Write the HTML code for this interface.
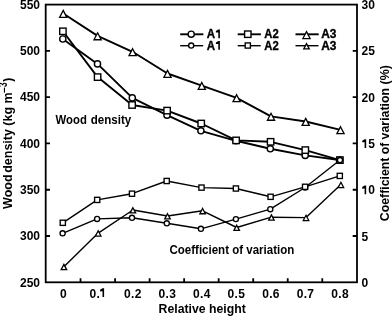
<!DOCTYPE html>
<html><head><meta charset="utf-8"><style>
html,body{margin:0;padding:0;background:#fff;width:392px;height:316px;overflow:hidden}
svg{display:block}
svg{will-change:transform}
.lg{stroke:#000;stroke-width:0.35px}
text{font-family:"Liberation Sans",sans-serif;font-weight:bold;font-size:12px;fill:#000}
</style></head><body>
<svg width="392" height="316" viewBox="0 0 392 316"><rect x="45.7" y="4.6" width="311.3" height="277.7" fill="none" stroke="#000" stroke-width="1.8"/><path d="M45.7 50.88h4.3M45.7 97.17h4.3M45.7 143.45h4.3M45.7 189.73h4.3M45.7 236.02h4.3M357 50.88h-4.3M357 97.17h-4.3M357 143.45h-4.3M357 189.73h-4.3M357 236.02h-4.3M80.53 282.3v-4M115.07 282.3v-4M149.6 282.3v-4M184.13 282.3v-4M218.67 282.3v-4M253.2 282.3v-4M287.73 282.3v-4M322.27 282.3v-4" stroke="#000" stroke-width="1.8" fill="none"/><polyline fill="none" stroke="#000" stroke-width="1.9" stroke-linejoin="round" points="62.8,39 97.5,63.9 132.3,97.9 167,115.2 200.9,130.8 236,140.8 270.3,148.8 305.2,155.4 339.5,160"/><g fill="#fff" stroke="#000"><circle cx="62.8" cy="39" r="3.1" stroke-width="1.4"/><circle cx="97.5" cy="63.9" r="3.1" stroke-width="1.4"/><circle cx="132.3" cy="97.9" r="3.1" stroke-width="1.4"/><circle cx="167" cy="115.2" r="3.1" stroke-width="1.4"/><circle cx="200.9" cy="130.8" r="3.1" stroke-width="1.4"/><circle cx="236" cy="140.8" r="3.1" stroke-width="1.4"/><circle cx="270.3" cy="148.8" r="3.1" stroke-width="1.4"/><circle cx="305.2" cy="155.4" r="3.1" stroke-width="1.4"/><circle cx="339.5" cy="160" r="3.1" stroke-width="1.4"/></g><polyline fill="none" stroke="#000" stroke-width="1.9" stroke-linejoin="round" points="62.9,31.3 97.6,77.1 132.1,105 167.1,110.6 201.2,123.5 236.1,140.4 270.6,141.8 305.3,150.1 339.9,160.1"/><g fill="#fff" stroke="#000"><rect x="59.7" y="28.1" width="6.4" height="6.4" stroke-width="1.4"/><rect x="94.4" y="73.9" width="6.4" height="6.4" stroke-width="1.4"/><rect x="128.9" y="101.8" width="6.4" height="6.4" stroke-width="1.4"/><rect x="163.9" y="107.4" width="6.4" height="6.4" stroke-width="1.4"/><rect x="198" y="120.3" width="6.4" height="6.4" stroke-width="1.4"/><rect x="232.9" y="137.2" width="6.4" height="6.4" stroke-width="1.4"/><rect x="267.4" y="138.6" width="6.4" height="6.4" stroke-width="1.4"/><rect x="302.1" y="146.9" width="6.4" height="6.4" stroke-width="1.4"/><rect x="336.7" y="156.9" width="6.4" height="6.4" stroke-width="1.4"/></g><polyline fill="none" stroke="#000" stroke-width="1.9" stroke-linejoin="round" points="63.2,13.5 97.6,35.9 132.6,51.8 167.5,73.5 201.8,85.6 236.6,97.8 271,116.4 305.7,121.5 340.5,129.8"/><g fill="#fff" stroke="#000"><path d="M63.2 10.4L66.8 17.35L59.6 17.35Z" stroke-width="1.3"/><path d="M97.6 32.8L101.2 39.75L94 39.75Z" stroke-width="1.3"/><path d="M132.6 48.7L136.2 55.65L129 55.65Z" stroke-width="1.3"/><path d="M167.5 70.4L171.1 77.35L163.9 77.35Z" stroke-width="1.3"/><path d="M201.8 82.5L205.4 89.45L198.2 89.45Z" stroke-width="1.3"/><path d="M236.6 94.7L240.2 101.65L233 101.65Z" stroke-width="1.3"/><path d="M271 113.3L274.6 120.25L267.4 120.25Z" stroke-width="1.3"/><path d="M305.7 118.4L309.3 125.35L302.1 125.35Z" stroke-width="1.3"/><path d="M340.5 126.7L344.1 133.65L336.9 133.65Z" stroke-width="1.3"/></g><polyline fill="none" stroke="#000" stroke-width="1.4" stroke-linejoin="round" points="62.6,233.3 97.1,218.9 132,217.8 166.8,223.3 200.9,228.8 235.9,219.1 270.3,209.2 305.1,187.5 340,160"/><g fill="#fff" stroke="#000"><circle cx="62.6" cy="233.3" r="2.55" stroke-width="1.35"/><circle cx="97.1" cy="218.9" r="2.55" stroke-width="1.35"/><circle cx="132" cy="217.8" r="2.55" stroke-width="1.35"/><circle cx="166.8" cy="223.3" r="2.55" stroke-width="1.35"/><circle cx="200.9" cy="228.8" r="2.55" stroke-width="1.35"/><circle cx="235.9" cy="219.1" r="2.55" stroke-width="1.35"/><circle cx="270.3" cy="209.2" r="2.55" stroke-width="1.35"/><circle cx="305.1" cy="187.5" r="2.55" stroke-width="1.35"/><circle cx="340" cy="160" r="2.55" stroke-width="1.35"/></g><polyline fill="none" stroke="#000" stroke-width="1.4" stroke-linejoin="round" points="62.8,222.8 97.2,199.9 132,193.7 166.7,181 201.5,187.6 235.9,188.5 270.6,196.8 305.1,186.8 339.8,175.9"/><g fill="#fff" stroke="#000"><rect x="60.2" y="220.2" width="5.2" height="5.2" stroke-width="1.35"/><rect x="94.6" y="197.3" width="5.2" height="5.2" stroke-width="1.35"/><rect x="129.4" y="191.1" width="5.2" height="5.2" stroke-width="1.35"/><rect x="164.1" y="178.4" width="5.2" height="5.2" stroke-width="1.35"/><rect x="198.9" y="185" width="5.2" height="5.2" stroke-width="1.35"/><rect x="233.3" y="185.9" width="5.2" height="5.2" stroke-width="1.35"/><rect x="268" y="194.2" width="5.2" height="5.2" stroke-width="1.35"/><rect x="302.5" y="184.2" width="5.2" height="5.2" stroke-width="1.35"/><rect x="337.2" y="173.3" width="5.2" height="5.2" stroke-width="1.35"/></g><polyline fill="none" stroke="#000" stroke-width="1.4" stroke-linejoin="round" points="63.9,266.7 98.2,233.1 132.9,210 167.5,216 202.6,210.8 236.7,227.5 271.4,217.2 306,217.6 340.9,184.6"/><g fill="#fff" stroke="#000"><path d="M63.9 264.4L66.65 269.65L61.15 269.65Z" stroke-width="1.3"/><path d="M98.2 230.8L100.95 236.05L95.45 236.05Z" stroke-width="1.3"/><path d="M132.9 207.7L135.65 212.95L130.15 212.95Z" stroke-width="1.3"/><path d="M167.5 213.7L170.25 218.95L164.75 218.95Z" stroke-width="1.3"/><path d="M202.6 208.5L205.35 213.75L199.85 213.75Z" stroke-width="1.3"/><path d="M236.7 225.2L239.45 230.45L233.95 230.45Z" stroke-width="1.3"/><path d="M271.4 214.9L274.15 220.15L268.65 220.15Z" stroke-width="1.3"/><path d="M306 215.3L308.75 220.55L303.25 220.55Z" stroke-width="1.3"/><path d="M340.9 182.3L343.65 187.55L338.15 187.55Z" stroke-width="1.3"/></g><path d="M180.2 34.3h23.2" stroke="#000" stroke-width="1.9"/><g fill="#fff" stroke="#000"><circle cx="191.2" cy="34.2" r="3.1" stroke-width="1.4"/></g><path d="M180.2 45.7h23" stroke="#000" stroke-width="1.4"/><g fill="#fff" stroke="#000"><circle cx="191.2" cy="45.5" r="2.55" stroke-width="1.35"/></g><text x="206.85" y="38.2" textLength="8.31" lengthAdjust="spacingAndGlyphs" class="lg">A</text><text x="206.85" y="49.7" textLength="8.31" lengthAdjust="spacingAndGlyphs" class="lg">A</text><path d="M237.7 34.3h23.2" stroke="#000" stroke-width="1.9"/><g fill="#fff" stroke="#000"><rect x="244.6" y="31" width="6.4" height="6.4" stroke-width="1.4"/></g><path d="M237.7 45.7h23" stroke="#000" stroke-width="1.4"/><g fill="#fff" stroke="#000"><rect x="245.2" y="42.9" width="5.2" height="5.2" stroke-width="1.35"/></g><text x="264.3" y="38.2" textLength="14.37" lengthAdjust="spacingAndGlyphs" class="lg">A2</text><text x="264.3" y="49.7" textLength="14.37" lengthAdjust="spacingAndGlyphs" class="lg">A2</text><path d="M295.5 34.3h23.2" stroke="#000" stroke-width="1.9"/><g fill="#fff" stroke="#000"><path d="M306.5 31.6L310.1 38.55L302.9 38.55Z" stroke-width="1.3"/></g><path d="M295.5 45.7h23" stroke="#000" stroke-width="1.4"/><g fill="#fff" stroke="#000"><path d="M306.5 43.6L309.25 48.85L303.75 48.85Z" stroke-width="1.3"/></g><text x="321.15" y="38.2" textLength="15.24" lengthAdjust="spacingAndGlyphs" class="lg">A3</text><text x="321.15" y="49.7" textLength="15.24" lengthAdjust="spacingAndGlyphs" class="lg">A3</text><text x="40" y="8.9" text-anchor="end">550</text><text x="40" y="55.18" text-anchor="end">500</text><text x="40" y="101.47" text-anchor="end">450</text><text x="40" y="147.75" text-anchor="end">400</text><text x="40" y="194.03" text-anchor="end">350</text><text x="40" y="240.32" text-anchor="end">300</text><text x="40" y="286.6" text-anchor="end">250</text><text x="361.5" y="9.2">30</text><text x="361.5" y="55.48">25</text><text x="361.5" y="101.77">20</text><text x="368.17" y="148.05">5</text><text x="368.17" y="194.33">0</text><text x="361.5" y="240.62">5</text><text x="361.5" y="286.9">0</text><text x="63.27" y="297.9" text-anchor="middle">0</text><text x="89.46" y="297.9" letter-spacing="0.35">0.</text><text x="123.99" y="297.9" letter-spacing="0.35">0.2</text><text x="158.53" y="297.9" letter-spacing="0.35">0.3</text><text x="193.06" y="297.9" letter-spacing="0.35">0.4</text><text x="227.59" y="297.9" letter-spacing="0.35">0.5</text><text x="262.13" y="297.9" letter-spacing="0.35">0.6</text><text x="296.66" y="297.9" letter-spacing="0.35">0.7</text><text x="331.19" y="297.9" letter-spacing="0.35">0.8</text><path d="M219.9 38.3V29.4H218.3L215.9 31V32.6L218.3 32.4V38.3ZM219.9 49.8V40.9H218.3L215.9 42.5V44.1L218.3 43.9V49.8ZM366.2 148.05V139.15H364.6L362.2 140.75V142.35L364.6 142.15V148.05ZM366.2 194.33V185.43H364.6L362.2 187.03V188.63L364.6 188.43V194.33ZM104.1 297.1V288.2H102.5L100.1 289.8V291.4L102.5 291.2V297.1Z" fill="#000"/><text x="55.6" y="123.6" textLength="31.22" lengthAdjust="spacingAndGlyphs">Wood</text><text x="90.71" y="123.6" textLength="40.46" lengthAdjust="spacingAndGlyphs">density</text><text x="169.44" y="253.6" textLength="124.83" lengthAdjust="spacingAndGlyphs">Coefficient of variation</text><text x="158.64" y="313.3" textLength="87.1" lengthAdjust="spacingAndGlyphs">Relative height</text><text transform="translate(12 208.94) rotate(-90)" textLength="34.61" lengthAdjust="spacingAndGlyphs">Wood</text><text transform="translate(12 172.77) rotate(-90)" textLength="80.42" lengthAdjust="spacingAndGlyphs">density (kg m</text><text transform="translate(6.5 86.88) rotate(-90)" font-size="9" textLength="4.63" lengthAdjust="spacingAndGlyphs">3</text><rect x="3.9" y="87.6" width="1.1" height="5.1" fill="#000"/><text transform="translate(12 81.8) rotate(-90)">)</text><text transform="translate(389.4 221.2) rotate(-90)" font-size="12.4" textLength="78.57" lengthAdjust="spacingAndGlyphs">Coefficient of</text><text transform="translate(389.4 139.42) rotate(-90)" font-size="12.4" textLength="74.18" lengthAdjust="spacingAndGlyphs">variation (%)</text></svg>
</body></html>
